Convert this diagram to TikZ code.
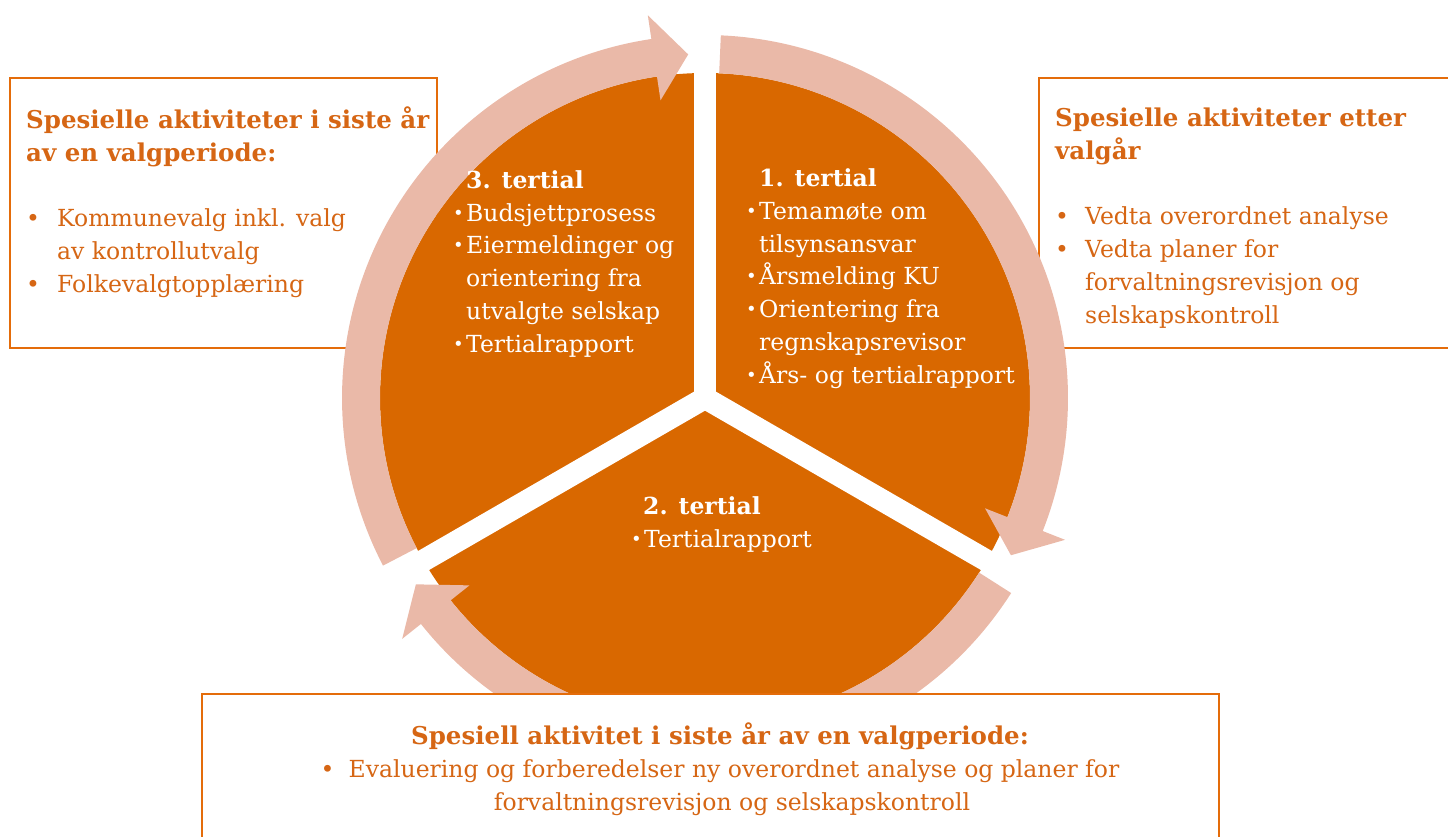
\documentclass[tikz,border=0pt]{standalone}
\usepackage{fontspec}
\setmainfont{DejaVu Serif}

\definecolor{segorange}{RGB}{217,104,0}
\definecolor{ringpink}{RGB}{234,185,168}
\definecolor{boxorange}{RGB}{228,108,10}
\definecolor{txtorange}{RGB}{214,102,20}

\newcommand{\txtsize}{\fontsize{23.5}{32.7}\selectfont}
\newcommand{\boxhead}[1]{{\fontsize{24.5}{32.7}\selectfont\bfseries #1}}
% bullet in a box of given width
\newcommand{\bul}[1]{\makebox[#1][l]{\textbullet}}
\newcommand{\pbul}{\makebox[13pt][l]{\raisebox{2pt}{\fontsize{18}{18}\selectfont\textbullet}}}

\tikzset{
	infobox/.style={draw=boxorange, line width=2pt, fill=white},
	boxtext/.style={text=txtorange, font=\txtsize, align=left, anchor=base west, inner sep=0pt},
	segtext/.style={text=white, font=\txtsize, align=left, anchor=base west, inner sep=0pt},
	gapline/.style={white, line width=22pt}
}

\begin{document}
\begin{tikzpicture}[x=1pt,y=1pt]
	\clip (0,0) rectangle (1448,-837);
	% side boxes (behind the wheel), nodes sit on their last baseline
	\draw [infobox] (10,-78) rectangle (437,-348);
	\draw [infobox] (1039,-78) rectangle (1460,-348);
	\node [boxtext] (leftnote) at (26,-292) {\boxhead{Spesielle aktiviteter i siste år}\\\boxhead{av en valgperiode:}\\[32.7pt]\bul{31pt}Kommunevalg inkl. valg\\\hspace*{31pt}av kontrollutvalg\\\bul{31pt}Folkevalgtopplæring};
	\node [boxtext] (rightnote) at (1055,-323) {\boxhead{Spesielle aktiviteter etter}\\\boxhead{valgår}\\[32.7pt]\bul{30pt}Vedta overordnet analyse\\\bul{30pt}Vedta planer for\\\hspace*{30pt}forvaltningsrevisjon og\\\hspace*{30pt}selskapskontroll};
	% wheel: three segments and three curved arrows
	\begin{scope}[shift={(705,-398)}]
		\fill [segorange] (0,0) circle [radius=325];
		\foreach \a in {90,-30,210}
			\draw [gapline] (0,0) -- (\a:330);
		\foreach \a in {0,-120,-240}
			\fill [ringpink] ({87.5+\a}:325) arc [start angle={87.5+\a}, end angle={-21.5+\a}, radius=325]
				-- ({-21.5+\a}:301) -- ({-27.2+\a}:344) -- ({-21.5+\a}:387) -- ({-21.5+\a}:363)
				arc [start angle={-21.5+\a}, end angle={87.5+\a}, radius=363] -- cycle;
	\end{scope}
	\node [segtext] (tert3) at (453,-352) {\hspace*{13pt}\textbf{3. tertial}\\\pbul Budsjettprosess\\\pbul Eiermeldinger og\\\hspace*{13pt}orientering fra\\\hspace*{13pt}utvalgte selskap\\\pbul Tertialrapport};
	\node [segtext] (tert1) at (746,-383) {\hspace*{13pt}\textbf{1. tertial}\\\pbul Temamøte om\\\hspace*{13pt}tilsynsansvar\\\pbul Årsmelding KU\\\pbul Orientering fra\\\hspace*{13pt}regnskapsrevisor\\\pbul Års- og tertialrapport};
	\node [segtext] (tert2) at (631,-547) {\hspace*{12pt}\textbf{2. tertial}\\\pbul Tertialrapport};
	% bottom box (in front of the wheel)
	\draw [infobox] (202,-694) rectangle (1219,-860);
	\node [boxtext, align=center, anchor=base] (bottomnote) at (720,-810) {\boxhead{Spesiell aktivitet i siste år av en valgperiode:}\\\bul{28pt}Evaluering og forberedelser ny overordnet analyse og planer for\\\hspace*{24pt}forvaltningsrevisjon og selskapskontroll};
\end{tikzpicture}
\end{document}
